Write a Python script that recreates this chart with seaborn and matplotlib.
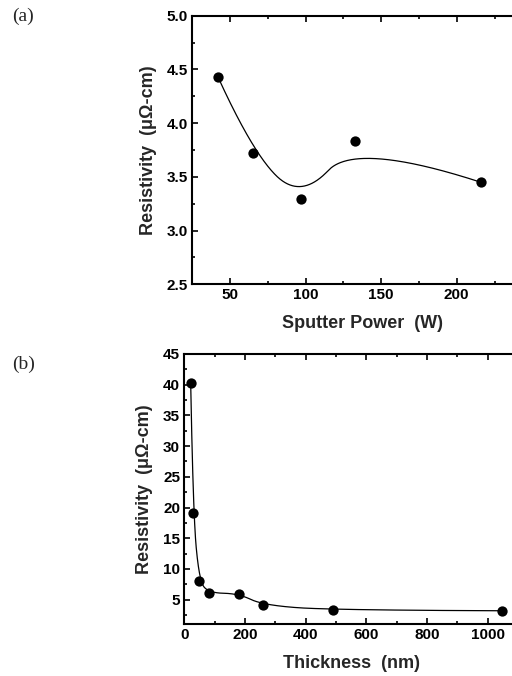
import matplotlib
matplotlib.use('Agg')
import matplotlib.pyplot as plt
from matplotlib.ticker import MultipleLocator
import seaborn as sns
import numpy as np

# data
power = [42, 65, 97, 133, 216]             # sputter power (W)
rho_power = [4.43, 3.72, 3.29, 3.83, 3.45]  # resistivity (uOhm-cm)

thickness = [21, 29, 49, 80, 179, 259, 489, 1048]   # thickness (nm)
rho_thick = [40.2, 19.1, 8.1, 6.1, 6.0, 4.1, 3.3, 3.2]


def bspline(xs, ys, n=500, k=2):
    # clamped B-spline that uses the data points as control points
    pts = np.column_stack([xs, ys]).astype(float)
    m = len(pts)
    inner = np.linspace(0, 1, m - k + 1)
    knots = np.concatenate([[0] * k, inner, [1] * k])
    t = np.linspace(0, 1, n)
    t[-1] = 1 - 1e-10

    def basis(i, p, u):
        if p == 0:
            return ((knots[i] <= u) & (u < knots[i + 1])).astype(float)
        a = 0.0
        b = 0.0
        d1 = knots[i + p] - knots[i]
        d2 = knots[i + p + 1] - knots[i + 1]
        if d1 > 0:
            a = (u - knots[i]) / d1 * basis(i, p - 1, u)
        if d2 > 0:
            b = (knots[i + p + 1] - u) / d2 * basis(i + 1, p - 1, u)
        return a + b

    curve = np.zeros((n, 2))
    for i in range(m):
        curve += basis(i, k, t)[:, None] * pts[i]
    return curve[:, 0], curve[:, 1]


sns.set_style('ticks')
plt.rcParams['font.family'] = ['Liberation Sans', 'DejaVu Sans']
plt.rcParams['font.weight'] = 'bold'
plt.rcParams['xtick.direction'] = 'in'
plt.rcParams['ytick.direction'] = 'in'

fig = plt.figure(figsize=(5.12, 6.76), dpi=100)
ax1 = fig.add_axes([0.3756, 0.5794, 0.664, 0.3973])
ax2 = fig.add_axes([0.36, 0.0765, 0.652, 0.400])


def style_axis(ax):
    for s in ax.spines.values():
        s.set_linewidth(1.5)
        s.set_color('black')
    ax.tick_params(which='both', top=True, right=True, width=1.2,
                   labelsize=11, pad=3, colors='black')
    ax.tick_params(which='major', length=4)
    ax.tick_params(which='minor', length=2.5)
    for lab in ax.get_xticklabels() + ax.get_yticklabels():
        lab.set_fontweight('bold')


# (a) resistivity vs sputter power
cx, cy = bspline(power, rho_power)
sns.lineplot(x=cx, y=cy, ax=ax1, color='black', linewidth=0.9,
             sort=False, estimator=None)
sns.scatterplot(x=power, y=rho_power, ax=ax1, color='black', s=55,
                edgecolor='black', linewidth=0, zorder=3)
ax1.set_xlim(25, 250)
ax1.set_ylim(2.5, 5.0)
ax1.set_xticks([50, 100, 150, 200])
ax1.xaxis.set_minor_locator(MultipleLocator(25))
ax1.yaxis.set_major_locator(MultipleLocator(0.5))
ax1.yaxis.set_minor_locator(MultipleLocator(0.25))
ax1.yaxis.set_major_formatter(plt.FormatStrFormatter('%.1f'))
ax1.set_xlabel('Sputter Power  (W)', fontsize=13, fontweight='bold', labelpad=9)
ax1.set_ylabel('Resistivity  (\u03bc\u03a9-cm)', fontsize=13, fontweight='bold', labelpad=7)
style_axis(ax1)

# (b) resistivity vs thickness
cx, cy = bspline(thickness, rho_thick)
sns.lineplot(x=cx, y=cy, ax=ax2, color='black', linewidth=0.9,
             sort=False, estimator=None)
sns.scatterplot(x=thickness, y=rho_thick, ax=ax2, color='black', s=55,
                edgecolor='black', linewidth=0, zorder=3)
ax2.set_xlim(0, 1100)
ax2.set_ylim(1, 45)
ax2.set_xticks([0, 200, 400, 600, 800, 1000])
ax2.xaxis.set_minor_locator(MultipleLocator(100))
ax2.set_yticks([5, 10, 15, 20, 25, 30, 35, 40, 45])
ax2.yaxis.set_minor_locator(MultipleLocator(2.5))
ax2.set_xlabel('Thickness  (nm)', fontsize=13, fontweight='bold', labelpad=9)
ax2.set_ylabel('Resistivity  (\u03bc\u03a9-cm)', fontsize=13, fontweight='bold', labelpad=7)
style_axis(ax2)

fig.text(0.023, 0.976, '(a)', family=['Liberation Serif', 'DejaVu Serif'],
         fontsize=14, fontweight='normal', va='center', ha='left')
fig.text(0.023, 0.461, '(b)', family=['Liberation Serif', 'DejaVu Serif'],
         fontsize=14, fontweight='normal', va='center', ha='left')

fig.savefig('out.png', dpi=100)
